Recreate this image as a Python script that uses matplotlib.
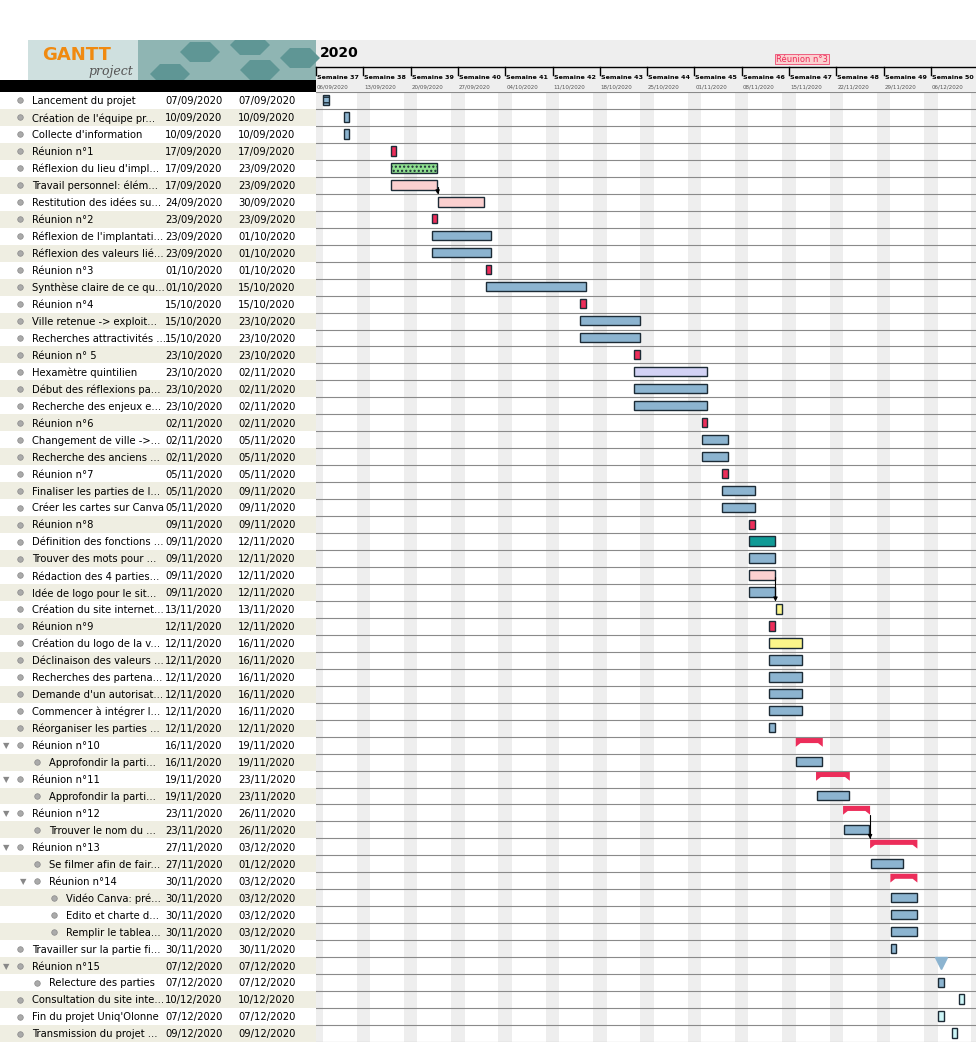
import datetime as dt
import matplotlib
matplotlib.use("Agg")
import matplotlib.pyplot as plt
from matplotlib.patches import Rectangle, Polygon

# --- data -----------------------------------------------------------------
names = [
    "Lancement du projet", "Création de l'équipe pr...", "Collecte d'information",
    "Réunion n°1", "Réflexion du lieu d'impl...", "Travail personnel: élém...",
    "Restitution des idées su...", "Réunion n°2", "Réflexion de l'implantati...",
    "Réflexion des valeurs lié...", "Réunion n°3", "Synthèse claire de ce qu...",
    "Réunion n°4", "Ville retenue -> exploit...", "Recherches attractivités ...",
    "Réunion n° 5", "Hexamètre quintilien", "Début des réflexions pa...",
    "Recherche des enjeux e...", "Réunion n°6", "Changement de ville ->...",
    "Recherche des anciens ...", "Réunion n°7", "Finaliser les parties de l...",
    "Créer les cartes sur Canva", "Réunion n°8", "Définition des fonctions ...",
    "Trouver des mots pour ...", "Rédaction des 4 parties...", "Idée de logo pour le sit...",
    "Création du site internet...", "Réunion n°9", "Création du logo de la v...",
    "Déclinaison des valeurs ...", "Recherches des partena...", "Demande d'un autorisat...",
    "Commencer à intégrer l...", "Réorganiser les parties ...", "Réunion n°10",
    "Approfondir la parti...", "Réunion n°11", "Approfondir la parti...",
    "Réunion n°12", "Trrouver le nom du ...", "Réunion n°13",
    "Se filmer afin de fair...", "Réunion n°14", "Vidéo Canva: pré...",
    "Edito et charte d...", "Remplir le tablea...", "Travailler sur la partie fi...",
    "Réunion n°15", "Relecture des parties", "Consultation du site inte...",
    "Fin du projet Uniq'Olonne", "Transmission du projet ...",
]
starts = [
    "07/09", "10/09", "10/09", "17/09", "17/09", "17/09", "24/09", "23/09", "23/09",
    "23/09", "01/10", "01/10", "15/10", "15/10", "15/10", "23/10", "23/10", "23/10",
    "23/10", "02/11", "02/11", "02/11", "05/11", "05/11", "05/11", "09/11", "09/11",
    "09/11", "09/11", "09/11", "13/11", "12/11", "12/11", "12/11", "12/11", "12/11",
    "12/11", "12/11", "16/11", "16/11", "19/11", "19/11", "23/11", "23/11", "27/11",
    "27/11", "30/11", "30/11", "30/11", "30/11", "30/11", "07/12", "07/12", "10/12",
    "07/12", "09/12",
]
ends = [
    "07/09", "10/09", "10/09", "17/09", "23/09", "23/09", "30/09", "23/09", "01/10",
    "01/10", "01/10", "15/10", "15/10", "23/10", "23/10", "23/10", "02/11", "02/11",
    "02/11", "02/11", "05/11", "05/11", "05/11", "09/11", "09/11", "09/11", "12/11",
    "12/11", "12/11", "12/11", "13/11", "12/11", "16/11", "16/11", "16/11", "16/11",
    "16/11", "12/11", "19/11", "19/11", "23/11", "23/11", "26/11", "26/11", "03/12",
    "01/12", "03/12", "03/12", "03/12", "03/12", "30/11", "07/12", "07/12", "10/12",
    "07/12", "09/12",
]
# indent level (0 top, 1 child, 2 grandchild) and summary flags
levels = [0] * 38 + [0, 1, 0, 1, 0, 1, 0, 1, 1, 2, 2, 2, 0, 0, 1, 0, 0, 0]
summary = [i in (38, 40, 42, 44, 46) for i in range(len(names))]
milestone = [i == 51 for i in range(len(names))]
kinds = {0: "stripe", 3: "red", 4: "green", 5: "pink", 6: "pink", 7: "red", 10: "red",
         12: "red", 15: "red", 16: "lav", 19: "red", 22: "red", 25: "red", 26: "teal",
         28: "pink", 30: "yellow", 31: "red", 32: "yellow", 53: "cyan", 54: "cyan", 55: "cyan"}
links = [(5, 6), (28, 30), (42, 44)]
weeks = list(range(37, 51))

COLORS = {"blue": "#8cb4d0", "red": "#ec2d5a", "green": "#8fe08f", "pink": "#fbd0d0",
          "lav": "#d2d2f5", "teal": "#109a96", "yellow": "#fbf58a", "cyan": "#cdf6f8",
          "stripe": "#8cb4d0"}

origin = dt.date(2020, 9, 6)


def day(s):
    d, m = s.split("/")
    return (dt.date(2020, int(m), int(d)) - origin).days


W, H = 976, 1042
fig = plt.figure(figsize=(W / 100, H / 100), dpi=100)
fig.patch.set_facecolor("white")


def frac_axes(x0, y0, x1, y1):
    return fig.add_axes([x0 / W, 1 - y1 / H, (x1 - x0) / W, (y1 - y0) / H])


n = len(names)
PX_DAY = 47.3 / 7
ndays = (W - 316) / PX_DAY

# --- table ---------------------------------------------------------------
at = frac_axes(0, 92, 316, H)
at.set_xlim(0, 316)
at.set_ylim(n, 0)
at.axis("off")
for i in range(n):
    if i % 2 == 1:
        at.add_patch(Rectangle((0, i), 316, 1, color="#efeee2", lw=0))
    ind = levels[i] * 17
    if summary[i] or i == 51:
        at.text(3 + ind, i + 0.55, "▼", fontsize=6, color="#888888", va="center")
    at.plot(20 + ind, i + 0.5, "o", ms=4, color="#aaaaaa", mec="#888888", mew=0.5)
    at.text(32 + ind, i + 0.55, names[i], fontsize=7.2, va="center")
    at.text(165, i + 0.55, starts[i] + "/2020", fontsize=7.2, va="center")
    at.text(238, i + 0.55, ends[i] + "/2020", fontsize=7.2, va="center")

# --- header ---------------------------------------------------------------
ah = frac_axes(0, 40, W, 92)
ah.set_xlim(0, W)
ah.set_ylim(92, 40)
ah.axis("off")
ah.add_patch(Rectangle((316, 40), W - 316, 52, color="#eeeeee", lw=0))
ah.add_patch(Rectangle((28, 40), 288, 40, color="#8fb5b3", lw=0))
ah.add_patch(Rectangle((28, 40), 110, 40, color="#cfe0df", lw=0))
for hx, hy in [(200, 52), (250, 45), (260, 70), (300, 58), (170, 74)]:
    ah.add_patch(Polygon([(hx - 20, hy), (hx - 10, hy - 10), (hx + 10, hy - 10),
                          (hx + 20, hy), (hx + 10, hy + 10), (hx - 10, hy + 10)],
                         color="#5f9695", lw=0))
ah.text(42, 55, "GANTT", fontsize=13, color="#f08a10", fontweight="bold", va="center")
ah.text(88, 72, "project", fontsize=9, color="#555555", style="italic",
        family="DejaVu Serif", va="center")
ah.add_patch(Rectangle((0, 80), 316, 12, color="black", lw=0))
ah.text(320, 53, "2020", fontsize=10, fontweight="bold", va="center")
ah.plot([316, W], [67, 67], color="black", lw=1)
for k, w in enumerate(weeks):
    x = 316 + k * 47.3
    ah.plot([x, x], [67, 75], color="black", lw=1)
    ah.text(x + 1, 77.5, f"Semaine {w}", fontsize=4.6, fontweight="bold", va="center")
    d = origin + dt.timedelta(days=7 * k)
    ah.text(x + 1, 87, d.strftime("%d/%m/%Y"), fontsize=4, color="#555555", va="center")
ah.text(776, 59, "Réunion n°3", fontsize=6, color="#ec2d5a", va="center",
        bbox=dict(boxstyle="square,pad=0.1", fc="#fbd0d0", ec="#ec2d5a", lw=0.5))

# --- gantt ---------------------------------------------------------------
ag = frac_axes(316, 92, W, H)
ag.set_xlim(0, ndays)
ag.set_ylim(n, 0)
ag.axis("off")
for dd in range(int(ndays) + 1):
    if (origin + dt.timedelta(days=dd)).weekday() >= 5:
        ag.add_patch(Rectangle((dd, 0), 1, n, color="#eeeeee", lw=0))
for i in range(n + 1):
    ag.plot([0, ndays], [i, i], color="#8a8a8a", lw=0.8)

for i in range(n):
    s, e = day(starts[i]), day(ends[i]) + 1
    if summary[i]:
        ag.add_patch(Polygon([(s, i + 0.08), (e, i + 0.08), (e, i + 0.6), (e - 0.7, i + 0.38),
                              (s + 0.7, i + 0.38), (s, i + 0.6)], color=COLORS["red"], lw=0))
        continue
    if milestone[i]:
        ag.plot(s + 0.5, i + 0.35, marker="v", ms=8, color="#8cb4d0")
        continue
    kind = kinds.get(i, "blue")
    hatch = "...." if kind == "green" else ("---" if kind == "stripe" else None)
    ag.add_patch(Rectangle((s + 0.1, i + 0.2), e - s - 0.2, 0.55, fc=COLORS[kind],
                           ec="#1c2b36", lw=1, hatch=hatch))

for a, b in links:
    xe = day(ends[a]) + 1
    ag.annotate("", xy=(xe, b + 0.2), xytext=(xe - 0.3, a + 0.5),
                arrowprops=dict(arrowstyle="-|>", color="black", lw=0.8,
                                connectionstyle="angle,angleA=0,angleB=90,rad=0",
                                mutation_scale=6))

fig.savefig("out.png", dpi=100)
